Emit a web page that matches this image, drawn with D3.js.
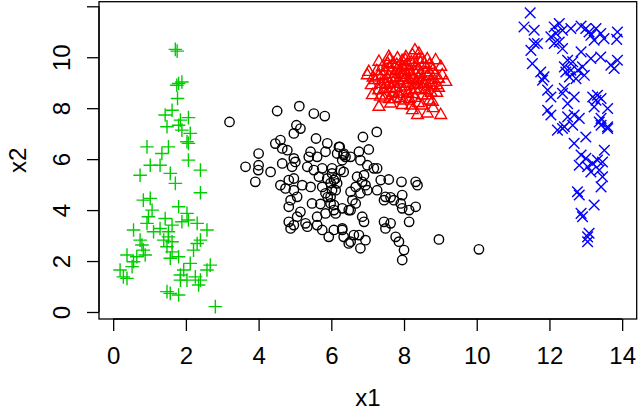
<!DOCTYPE html>
<html>
<head>
<meta charset="utf-8">
<script src="https://cdn.jsdelivr.net/npm/d3@7"></script>
<style>
  html, body { margin: 0; padding: 0; background: #fff; }
  svg { display: block; font-family: "Liberation Sans", Arial, Helvetica, sans-serif; }
</style>
</head>
<body>
<svg id="chart"></svg>
<script>
// cluster points as [x1, x2]
const plusPoints = [
  [1.71,10.31],[1.76,10.24],[1.80,8.97],[1.89,9.03],[1.75,8.90],[1.77,8.38],[1.62,7.92],[1.43,7.73],
  [2.07,7.63],[1.85,7.53],[1.80,7.33],[1.48,7.27],[1.89,7.14],[2.12,7.01],[2.03,6.68],[2.07,6.62],
  [0.93,6.48],[1.52,6.48],[1.34,6.22],[2.07,5.96],[2.40,5.57],[1.02,5.76],[1.29,5.76],[1.57,5.44],
  [0.74,5.37],[1.71,5.05],[2.40,4.68],[0.83,4.39],[1.02,4.46],[1.07,4.00],[0.97,3.74],[0.93,3.48],
  [1.80,4.13],[2.03,3.87],[2.07,3.61],[1.89,3.54],[2.31,3.48],[1.43,3.67],[1.62,3.41],[0.56,3.22],
  [0.74,2.82],[0.79,2.63],[1.11,3.15],[2.58,3.22],[2.40,2.82],[2.21,2.43],[2.31,2.69],[1.39,2.82],
  [1.52,2.95],[1.48,2.56],[1.62,2.36],[1.80,2.17],[1.57,2.11],[0.83,2.43],[0.88,2.24],[0.65,2.17],
  [0.38,2.24],[0.56,1.97],[0.52,1.78],[0.19,1.65],[0.28,1.38],[0.38,1.32],[2.12,1.91],[1.85,1.45],
  [2.03,1.25],[2.26,1.38],[2.35,1.06],[2.58,1.65],[2.67,1.84],[1.85,1.25],[1.48,0.80],[1.57,0.73],
  [1.80,0.67],[2.81,0.21],[1.29,3.28],[1.52,3.15],[1.62,2.76],[1.94,1.65],[2.40,1.25]
];

const circlePoints = [
  [3.20,7.46],[4.51,7.89],[5.12,8.08],[5.52,7.79],[5.82,7.69],[5.04,7.33],[5.15,7.20],[4.97,7.01],
  [4.46,6.61],[4.60,6.75],[4.65,6.42],[4.79,6.35],[4.00,6.22],[5.58,6.81],[3.64,5.70],[4.00,5.76],
  [3.99,5.57],[4.33,5.50],[3.91,5.11],[4.65,5.83],[4.97,6.03],[5.01,5.89],[4.92,5.70],[5.43,6.29],
  [5.38,6.09],[5.61,6.09],[5.89,6.62],[5.84,6.29],[6.21,6.48],[6.34,6.16],[6.30,5.96],[6.25,5.57],
  [6.53,6.09],[5.34,5.70],[5.52,5.57],[5.75,5.64],[6.02,5.64],[5.66,5.31],[5.89,5.24],[6.12,5.24],
  [5.75,4.91],[5.84,4.66],[5.98,4.52],[6.12,4.78],[4.83,5.18],[4.97,5.24],[4.60,4.98],[4.74,4.85],
  [4.97,4.78],[5.06,4.52],[4.88,4.39],[4.83,4.13],[5.15,3.93],[5.06,3.74],[5.20,4.98],[5.43,4.91],
  [5.47,4.26],[5.61,3.74],[5.84,3.87],[6.07,4.20],[6.30,4.07],[6.48,4.00],[4.83,3.54],[4.97,3.41],
  [4.88,3.28],[5.29,3.48],[5.34,3.35],[5.61,3.41],[5.75,3.22],[5.93,2.95],[6.07,3.22],[6.30,3.28],
  [6.34,2.95],[6.48,2.69],[6.62,3.02],[5.98,5.06],[5.90,4.51],[5.70,4.24],
  [6.87,6.87],[7.25,7.07],[6.23,6.48],[6.34,6.22],[6.39,6.09],[6.16,6.22],[6.76,6.29],[7.03,6.38],
  [6.80,5.96],[6.99,5.76],[7.17,5.64],[7.26,5.64],[6.02,5.44],[6.07,5.18],[6.16,5.05],[6.02,4.78],
  [6.34,5.50],[6.71,5.31],[6.90,5.37],[6.85,5.11],[6.94,4.98],[6.67,4.91],[6.53,4.72],[6.99,4.78],
  [6.80,4.66],[6.58,4.39],[6.67,4.26],[7.26,4.78],[7.36,5.18],[7.58,5.20],[7.93,5.11],[8.32,5.11],
  [8.37,4.98],[7.49,4.52],[7.63,4.50],[7.72,4.39],[7.45,4.39],[7.95,4.59],[7.91,4.26],[7.95,4.07],
  [8.14,4.00],[8.32,4.13],[8.14,3.54],[5.98,4.26],[6.07,4.00],[6.53,4.00],[6.12,3.87],[6.85,3.74],
  [6.90,3.54],[7.45,3.54],[7.49,3.28],[7.63,3.48],[6.30,3.22],[6.76,3.02],[6.94,2.82],[6.53,2.76],
  [6.80,2.50],[7.77,2.95],[7.86,2.76],[8.00,2.43],[7.95,2.04],[8.96,2.85],[10.06,2.46]
];

const trianglePoints = [
  [8.30,10.27],[8.41,10.14],[8.23,10.08],[7.58,10.01],[7.82,9.95],[8.04,9.88],[8.64,9.92],[8.87,9.88],
  [7.31,9.82],[9.01,9.62],[9.05,9.29],[9.15,9.03],[7.03,9.42],[6.99,9.29],[7.13,8.51],[7.31,8.05],
  [7.63,8.18],[7.95,8.12],[8.37,7.73],[8.64,7.79],[9.01,7.73],[8.78,8.25],[8.23,7.92],[7.45,8.38],
  [7.20,9.10],[7.40,9.30],[7.50,8.90],[7.60,9.60],[7.70,9.20],[7.80,8.80],[7.90,9.40],[8.00,9.10],
  [8.10,9.70],[8.20,9.30],[8.30,8.90],[8.40,9.50],[8.50,9.10],[8.60,8.70],[8.70,9.40],[8.80,9.00],
  [8.90,8.60],[7.30,8.70],[7.50,8.50],[7.70,8.60],[7.90,8.40],[8.10,8.60],[8.30,8.40],[8.50,8.50],
  [8.70,8.30],[8.20,8.10],[7.60,9.90],[7.80,9.70],[8.00,9.50],[8.20,9.80],[8.40,9.90],[8.60,9.60],
  [8.80,9.50],[7.40,9.60],[7.10,8.90],[7.65,9.45],[7.85,9.05],[8.05,8.85],[8.25,9.15],[8.45,8.75],
  [8.65,9.25],[8.35,9.65],[7.95,9.85],[7.55,9.15],[7.75,8.35],[8.15,8.35],[8.55,8.95],[8.75,8.85],
  [8.95,9.15],[7.35,8.95],[7.95,8.65],[8.00,9.30],[8.10,9.00],[7.90,9.20],[8.20,8.70],[8.40,9.20],
  [7.70,9.00],[8.60,9.00],[8.30,9.40],[7.80,9.50],
  [7.25,9.45],[7.45,9.05],[7.55,9.75],[7.65,8.75],[7.75,9.35],[7.85,8.55],[7.95,9.60],[8.05,9.20],
  [8.15,9.45],[8.25,8.55],[8.35,9.05],[8.45,9.35],[8.55,9.75],[8.65,8.50],[8.75,9.10],[8.85,9.30],
  [8.90,8.90],[7.15,9.20],[7.35,8.45],[7.60,8.35],[8.00,8.30],[8.40,8.20],[8.80,8.00],[8.50,8.10],
  [7.50,9.45],[7.70,9.75],[8.05,10.00],[8.50,9.90],[8.70,9.70],[7.45,8.75],[7.90,8.95],[8.15,9.10],
  [8.30,8.75],[8.60,9.40],[8.75,8.60],[7.60,8.95],[8.05,9.65],[8.45,8.95],[7.30,9.25],[8.95,8.80]
];

const crossPoints = [
  [11.47,11.74],[11.30,11.19],[11.58,11.06],[12.13,11.19],[12.27,11.32],[12.36,11.06],[12.59,11.13],
  [12.87,11.22],[13.00,11.13],[13.09,10.99],[13.28,11.13],[13.41,10.93],[13.87,10.99],[13.85,10.70],
  [13.50,10.73],[13.23,10.67],[13.14,10.86],[12.04,10.80],[12.18,10.93],[12.27,10.60],[12.13,10.54],
  [12.36,10.34],[11.58,10.54],[11.67,10.54],[11.49,10.27],[11.53,9.75],[11.76,9.42],[11.85,9.23],
  [11.81,9.10],[12.50,9.88],[12.64,9.82],[12.41,9.62],[12.45,9.42],[12.59,9.49],[12.55,9.23],
  [12.87,10.21],[12.91,9.62],[12.78,9.49],[12.96,9.29],[12.73,9.16],[13.14,9.95],[13.41,10.01],
  [13.69,9.69],[13.87,9.88],[13.78,9.56],[11.95,8.71],[12.04,8.44],[12.41,8.77],[12.36,8.58],
  [12.68,8.44],[12.50,8.18],[13.19,8.44],[13.32,8.51],[13.42,8.38],[13.28,8.31],[13.23,8.05],
  [13.60,7.99],[11.95,7.92],[12.04,7.73],[12.50,7.66],[12.68,7.73],[12.82,7.60],[12.64,7.33],
  [12.41,7.27],[13.42,7.60],[13.42,7.33],[13.60,7.27],[12.22,7.14],[12.36,7.20],[13.37,7.46],
  [13.60,7.20],[12.68,6.62],[13.00,6.87],[12.87,6.16],[13.00,6.03],[13.19,5.83],[13.32,5.96],
  [13.46,5.89],[13.51,6.35],[12.82,5.76],[13.05,5.70],[13.14,5.50],[13.37,5.57],[13.46,5.31],
  [13.42,4.91],[12.77,4.72],[12.82,4.59],[13.23,4.20],[12.87,3.87],[12.91,3.74],[13.09,3.09],
  [13.05,2.95],[13.05,2.76]
];

const xTicks = [0, 2, 4, 6, 8, 10, 12, 14];
const yTicks = [0, 2, 4, 6, 8, 10, 12];
const yTickLabels = ["0", "2", "4", "6", "8", "10", ""];

const W = 640, H = 413;
const margin = { top: 1.7, right: 3.3, bottom: 94, left: 99 };
const width = W - margin.left - margin.right;
const height = H - margin.top - margin.bottom;
const fontSize = 24;
const lw = 1.3;

const svg = d3.select('#chart').attr('width', W).attr('height', H);
const g = svg.append('g').attr('transform', `translate(${margin.left},${margin.top})`);

// scales (R style, 4% padding around the data)
const x = d3.scaleLinear().domain([-0.39, 14.40]).range([0, width]);
const y = d3.scaleLinear().domain([-0.275, 12.18]).range([height, 0]);

// x axis
const xAxis = g.append('g')
  .attr('transform', `translate(0,${height})`)
  .call(d3.axisBottom(x).tickValues(xTicks).tickSize(12).tickPadding(16).tickFormat(d3.format('d')));
xAxis.select('.domain').remove();
xAxis.append('line')
  .attr('x1', x(xTicks[0])).attr('x2', x(xTicks[xTicks.length - 1]))
  .attr('stroke', '#000').attr('stroke-width', lw);
xAxis.selectAll('.tick line').attr('stroke', '#000').attr('stroke-width', lw);
xAxis.selectAll('.tick text')
  .attr('fill', '#000')
  .style('font-size', fontSize + 'px')
  .style('font-family', '"Liberation Sans", Arial, sans-serif');

// y axis, labels parallel to axis
const yAxis = g.append('g')
  .call(d3.axisLeft(y).tickValues(yTicks).tickSize(12).tickFormat((d, i) => yTickLabels[i]));
yAxis.select('.domain').remove();
yAxis.append('line')
  .attr('y1', y(yTicks[0])).attr('y2', y(yTicks[yTicks.length - 1]))
  .attr('stroke', '#000').attr('stroke-width', lw);
yAxis.selectAll('.tick line').attr('stroke', '#000').attr('stroke-width', lw);
yAxis.selectAll('.tick text')
  .attr('x', null).attr('dy', null)
  .attr('transform', 'translate(-29,0) rotate(-90)')
  .attr('text-anchor', 'middle')
  .attr('fill', '#000')
  .style('font-size', fontSize + 'px')
  .style('font-family', '"Liberation Sans", Arial, sans-serif');

// plot box
g.append('rect')
  .attr('x', 0).attr('y', 0)
  .attr('width', width).attr('height', height)
  .attr('fill', 'none')
  .attr('stroke', '#000')
  .attr('stroke-width', lw);

// points
const plusR = 6.8, crossR = 5.3, circleR = 4.7, triR = 6.8;

g.append('g').selectAll('path')
  .data(plusPoints).enter().append('path')
  .attr('d', d => `M${x(d[0]) - plusR},${y(d[1])}h${2 * plusR}M${x(d[0])},${y(d[1]) - plusR}v${2 * plusR}`)
  .attr('stroke', '#00CD00').attr('stroke-width', 1.4).attr('fill', 'none');

g.append('g').selectAll('circle')
  .data(circlePoints).enter().append('circle')
  .attr('cx', d => x(d[0])).attr('cy', d => y(d[1])).attr('r', circleR)
  .attr('stroke', '#000').attr('stroke-width', 1.4).attr('fill', 'none');

g.append('g').selectAll('path')
  .data(trianglePoints).enter().append('path')
  .attr('d', d => {
    const cx = x(d[0]), cy = y(d[1]);
    const xc = triR * Math.cos(Math.PI / 6), yc = triR * 0.5;
    return `M${cx},${cy - triR}L${cx + xc},${cy + yc}L${cx - xc},${cy + yc}Z`;
  })
  .attr('stroke', '#FF0000').attr('stroke-width', 1.4).attr('fill', 'none');

g.append('g').selectAll('path')
  .data(crossPoints).enter().append('path')
  .attr('d', d => {
    const cx = x(d[0]), cy = y(d[1]);
    return `M${cx - crossR},${cy - crossR}L${cx + crossR},${cy + crossR}M${cx - crossR},${cy + crossR}L${cx + crossR},${cy - crossR}`;
  })
  .attr('stroke', '#0000FF').attr('stroke-width', 1.4).attr('fill', 'none');

// axis titles
svg.append('text')
  .attr('x', margin.left + width / 2).attr('y', 406)
  .attr('text-anchor', 'middle')
  .style('font-size', fontSize + 'px')
  .text('x1');

svg.append('text')
  .attr('transform', `translate(26,${margin.top + height / 2}) rotate(-90)`)
  .attr('text-anchor', 'middle')
  .style('font-size', fontSize + 'px')
  .text('x2');
</script>
</body>
</html>
